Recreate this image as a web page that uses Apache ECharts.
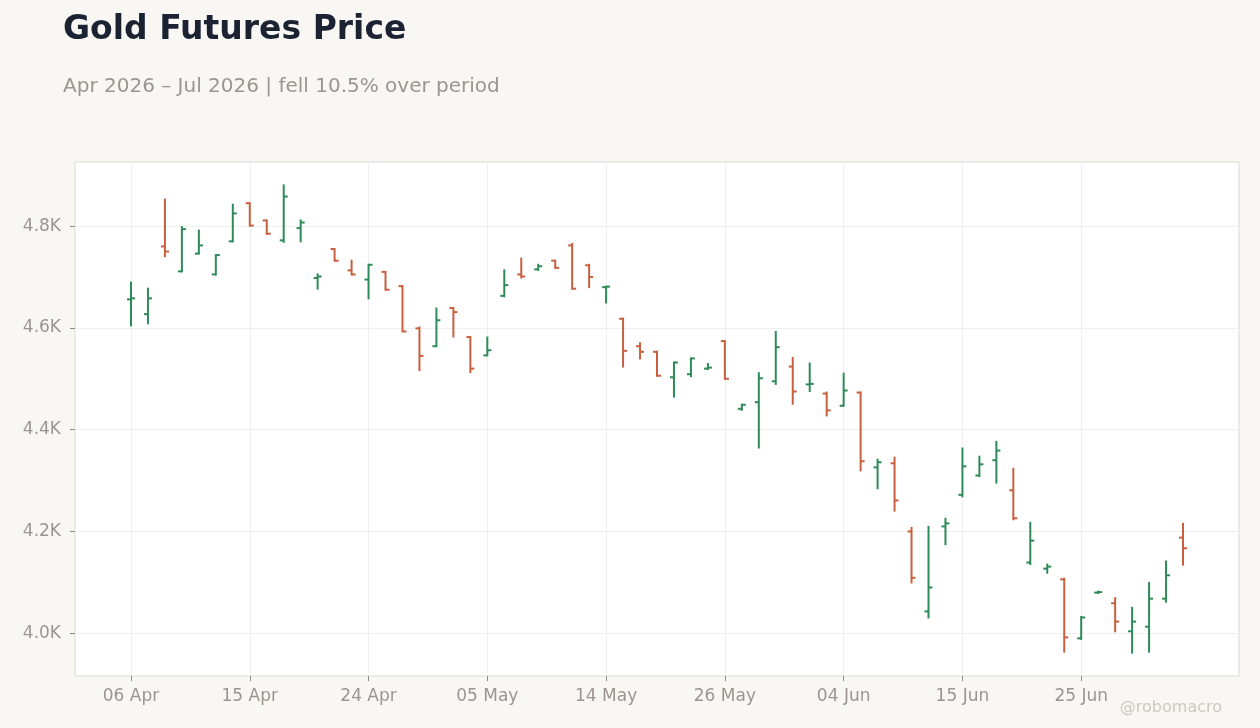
<!DOCTYPE html>
<html>
<head>
<meta charset="utf-8">
<title>Gold Futures Price</title>
<script src="https://cdn.jsdelivr.net/npm/echarts@6/dist/echarts.min.js"></script>
<style>
	html, body { margin: 0; padding: 0; background: #f9f7f4; }
	#chart { width: 1260px; height: 728px; }
</style>
</head>
<body>
<div id="chart"></div>
<script>
// trading days
var dates = [
	'2026-04-06', '2026-04-07', '2026-04-08', '2026-04-09', '2026-04-10',
	'2026-04-13', '2026-04-14', '2026-04-15', '2026-04-16', '2026-04-17',
	'2026-04-20', '2026-04-21', '2026-04-22', '2026-04-23', '2026-04-24',
	'2026-04-27', '2026-04-28', '2026-04-29', '2026-04-30', '2026-05-01',
	'2026-05-04', '2026-05-05', '2026-05-06', '2026-05-07', '2026-05-08',
	'2026-05-11', '2026-05-12', '2026-05-13', '2026-05-14', '2026-05-15',
	'2026-05-18', '2026-05-19', '2026-05-20', '2026-05-21', '2026-05-22',
	'2026-05-26', '2026-05-27', '2026-05-28', '2026-05-29', '2026-06-01',
	'2026-06-02', '2026-06-03', '2026-06-04', '2026-06-05', '2026-06-08',
	'2026-06-09', '2026-06-10', '2026-06-11', '2026-06-12', '2026-06-15',
	'2026-06-16', '2026-06-17', '2026-06-18', '2026-06-22', '2026-06-23',
	'2026-06-24', '2026-06-25', '2026-06-26', '2026-06-29', '2026-06-30',
	'2026-07-01', '2026-07-02', '2026-07-06'
];

var opens = [
	4656, 4627, 4760, 4711, 4746, 4705, 4770, 4845, 4811, 4772,
	4796, 4698, 4755, 4713, 4695, 4710, 4682, 4599, 4564, 4639,
	4582, 4546, 4663, 4705, 4715, 4732, 4762, 4723, 4680, 4618,
	4564, 4553, 4503, 4509, 4520, 4574, 4441, 4454, 4495, 4524,
	4489, 4471, 4447, 4473, 4326, 4334, 4200, 4043, 4210, 4272,
	4310, 4340, 4281, 4139, 4127, 4106, 3990, 4080, 4059, 4004,
	4013, 4068, 4188
];
var highs = [
	4689, 4677, 4852, 4798, 4791, 4743, 4842, 4845, 4811, 4880,
	4811, 4705, 4755, 4732, 4724, 4710, 4682, 4601, 4638, 4639,
	4582, 4581, 4713, 4736, 4724, 4732, 4765, 4724, 4681, 4618,
	4570, 4553, 4532, 4540, 4529, 4574, 4449, 4511, 4592, 4541,
	4530, 4473, 4510, 4473, 4341, 4345, 4207, 4209, 4225, 4363,
	4347, 4376, 4323, 4217, 4135, 4107, 4032, 4082, 4069, 4050,
	4099, 4141, 4215
];
var lows = [
	4605, 4609, 4741, 4711, 4746, 4705, 4770, 4801, 4785, 4769,
	4770, 4677, 4732, 4705, 4658, 4675, 4593, 4517, 4564, 4583,
	4513, 4546, 4662, 4699, 4714, 4718, 4677, 4680, 4650, 4524,
	4540, 4506, 4465, 4505, 4519, 4500, 4439, 4365, 4490, 4451,
	4476, 4428, 4447, 4320, 4285, 4241, 4100, 4031, 4175, 4269,
	4309, 4296, 4224, 4136, 4119, 3964, 3989, 4079, 4004, 3962,
	3964, 4062, 4135
];
var closes = [
	4658, 4658, 4750, 4794, 4762, 4743, 4825, 4801, 4785, 4858,
	4807, 4701, 4732, 4705, 4724, 4675, 4593, 4545, 4615, 4631,
	4520, 4556, 4684, 4701, 4721, 4718, 4677, 4700, 4681, 4555,
	4553, 4506, 4532, 4540, 4522, 4500, 4449, 4501, 4562, 4475,
	4490, 4438, 4477, 4338, 4336, 4261, 4109, 4090, 4216, 4328,
	4332, 4359, 4226, 4182, 4131, 3992, 4031, 4081, 4023, 4023,
	4068, 4114, 4167
];

// tick labels
var xTicks = [0, 7, 14, 21, 28, 35, 42, 49, 56];
var yTicks = [4000, 4200, 4400, 4600, 4800];

var UP = '#2e8b57', DOWN = '#c8603e';
var MONTHS = ['Jan', 'Feb', 'Mar', 'Apr', 'May', 'Jun', 'Jul', 'Aug', 'Sep', 'Oct', 'Nov', 'Dec'];

function fmtDate(s) {
	var p = s.split('-');
	return p[2] + ' ' + MONTHS[parseInt(p[1], 10) - 1];
}

var ohlc = [];
for (var i = 0; i < dates.length; i++) {
	ohlc.push([i, opens[i], highs[i], lows[i], closes[i]]);
}

// OHLC bar: high-low stem, open tick left, close tick right
function renderOhlc(params, api) {
	var x = api.value(0);
	var o = api.coord([x, api.value(1)]);
	var h = api.coord([x, api.value(2)]);
	var l = api.coord([x, api.value(3)]);
	var c = api.coord([x, api.value(4)]);
	var color = api.value(4) >= api.value(1) ? UP : DOWN;
	var st = { stroke: color, lineWidth: 2 };
	var w = 4;
	return {
		type : 'group',
		children : [ {
			type : 'line',
			shape : { x1: h[0], y1: h[1] - 1, x2: l[0], y2: l[1] + 1 },
			style : st
		}, {
			type : 'line',
			shape : { x1: o[0] - w, y1: o[1], x2: o[0], y2: o[1] },
			style : st
		}, {
			type : 'line',
			shape : { x1: c[0], y1: c[1], x2: c[0] + w, y2: c[1] },
			style : st
		} ]
	};
}

var chart = echarts.init(document.getElementById('chart'));
var labelColor = '#9b958f';

chart.setOption({
	backgroundColor : '#f9f7f4',
	textStyle : { fontFamily : 'DejaVu Sans' },
	title : [ {
		text : 'Gold Futures Price',
		left : 58,
		top : 9,
		textStyle : { fontSize : 33, fontWeight : 'bold', color : '#1b2333', fontFamily : 'DejaVu Sans' }
	}, {
		text : 'Apr 2026 \u2013 Jul 2026 | fell 10.5% over period',
		left : 58,
		top : 72,
		textStyle : { fontSize : 20, fontWeight : 'normal', color : labelColor, fontFamily : 'DejaVu Sans' }
	} ],
	graphic : [ {
		type : 'text',
		right : 38,
		bottom : 12,
		style : { text : '@robomacro', fill : '#cdc8c2', fontSize : 16, fontFamily : 'DejaVu Sans' }
	} ],
	grid : {
		left : 75,
		right : 21,
		top : 162,
		bottom : 52,
		show : true,
		backgroundColor : '#ffffff',
		borderColor : '#ddd8d1',
		borderWidth : 1
	},
	xAxis : {
		type : 'value',
		min : -3.3,
		max : 65.3,
		axisLine : { show : false, onZero : false },
		axisTick : { show : true, length : 5, customValues : xTicks, lineStyle : { color : '#8f8a85' } },
		axisLabel : {
			customValues : xTicks,
			color : labelColor,
			fontSize : 17,
			margin : 12,
			formatter : function(v) {
				return dates[v] ? fmtDate(dates[v]) : '';
			}
		},
		splitLine : { show : true, lineStyle : { color : '#efefef' } }
	},
	yAxis : {
		type : 'value',
		min : function(v) { return v.min - (v.max - v.min) * 0.05; },
		max : function(v) { return v.max + (v.max - v.min) * 0.05; },
		axisLine : { show : false, onZero : false },
		axisTick : { show : true, length : 5, customValues : yTicks, lineStyle : { color : '#8f8a85' } },
		axisLabel : {
			customValues : yTicks,
			color : labelColor,
			fontSize : 17,
			margin : 14,
			formatter : function(v) {
				return (v / 1000).toFixed(1) + 'K';
			}
		},
		splitLine : { show : true, lineStyle : { color : '#efefef' } }
	},
	series : [ {
		name : 'Gold Futures',
		type : 'custom',
		renderItem : renderOhlc,
		encode : { x : 0, y : [ 1, 2, 3, 4 ] },
		data : ohlc,
		clip : true
	} ]
});
</script>
</body>
</html>
